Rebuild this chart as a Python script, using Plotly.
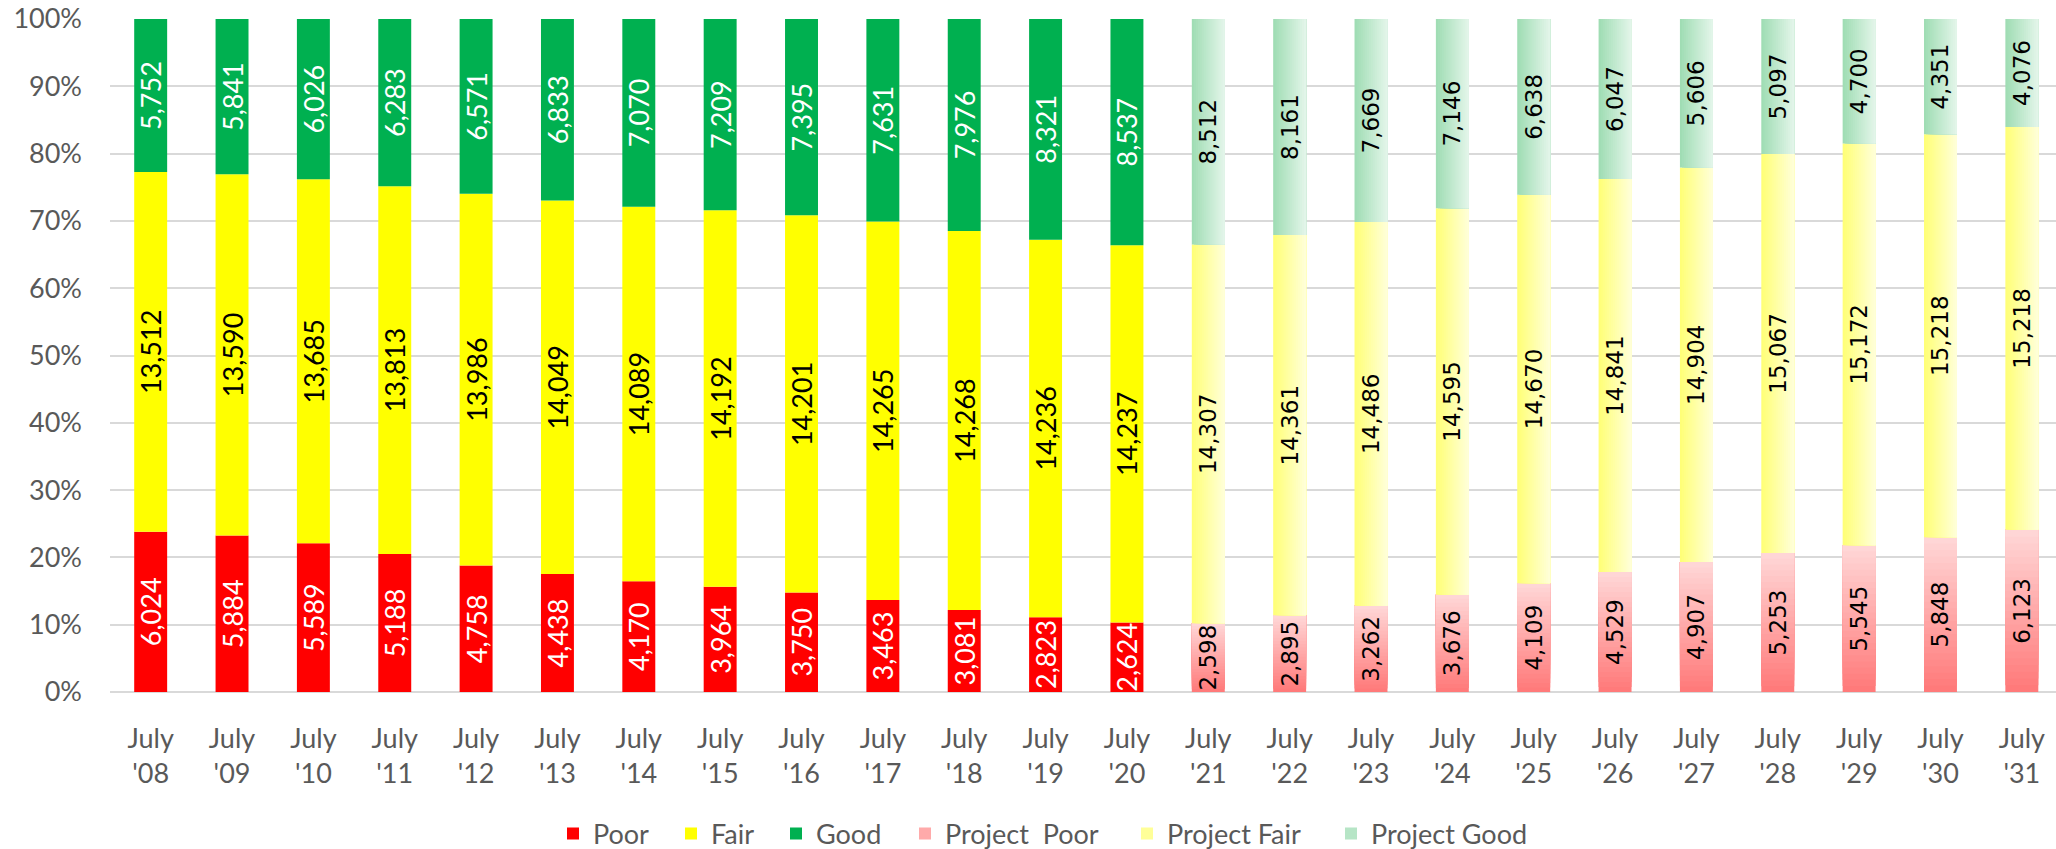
import numpy as np
import plotly.graph_objects as go

# ---------------- data ----------------
years = ["'08", "'09", "'10", "'11", "'12", "'13", "'14", "'15", "'16", "'17", "'18", "'19",
         "'20", "'21", "'22", "'23", "'24", "'25", "'26", "'27", "'28", "'29", "'30", "'31"]
categories = ["July<br>" + y for y in years]

poor = [6024, 5884, 5589, 5188, 4758, 4438, 4170, 3964, 3750, 3463, 3081, 2823, 2624]
fair = [13512, 13590, 13685, 13813, 13986, 14049, 14089, 14192, 14201, 14265, 14268, 14236, 14237]
good = [5752, 5841, 6026, 6283, 6571, 6833, 7070, 7209, 7395, 7631, 7976, 8321, 8537]

project_poor = [2598, 2895, 3262, 3676, 4109, 4529, 4907, 5253, 5545, 5848, 6123]
project_fair = [14307, 14361, 14486, 14595, 14670, 14841, 14904, 15067, 15172, 15218, 15218]
project_good = [8512, 8161, 7669, 7146, 6638, 6047, 5606, 5097, 4700, 4351, 4076]

legend_names = ["Poor", "Fair", "Good", "Project\u00a0 Poor", "Project Fair", "Project Good"]

# ---------------- derived ----------------
n_act = len(poor)
cat_act = categories[:n_act]
cat_proj = categories[n_act:]


def pct(a, b, c):
    a, b, c = np.array(a, float), np.array(b, float), np.array(c, float)
    t = a + b + c
    return a / t * 100, b / t * 100, c / t * 100


pa, fa, ga = pct(poor, fair, good)
pp, fp, gp = pct(project_poor, project_fair, project_good)

W = 0.405
GRAY = "#595959"
LABEL_FONT = "Lato"
PROJ_FONT = "DejaVu Sans"
legend_ids = ["legend", "legend2", "legend3", "legend4", "legend5", "legend6"]


def fmt(v):
    return [f"{x:,}" for x in v]


def mix(c1, c2, t):
    r = [round(c1[i] + (c2[i] - c1[i]) * t) for i in range(3)]
    return f"rgb({r[0]},{r[1]},{r[2]})"


fig = go.Figure()

# actual series
for idx, (vals, p, base, col, tcol) in enumerate([
    (poor, pa, np.zeros(n_act), "#FF0000", "white"),
    (fair, fa, pa, "#FFFF00", "black"),
    (good, ga, pa + fa, "#00B050", "white"),
]):
    fig.add_trace(go.Bar(
        x=cat_act, y=p, base=base, width=W, name=legend_names[idx], legend=legend_ids[idx],
        marker=dict(color=col, line=dict(width=0)),
        text=fmt(vals), textposition="inside", insidetextanchor="middle",
        textangle=-90, constraintext="none",
        textfont=dict(family=LABEL_FONT, size=27, color=tcol),
        hoverinfo="skip",
    ))

# projected poor: vertical gradient (bottom dark -> top light)
K = 24
bot, top = (255, 122, 122), (255, 214, 214)
for k in range(K):
    t = k / (K - 1)
    fig.add_trace(go.Bar(
        x=cat_proj, y=pp * (1 - k / K), base=pp * k / K, width=W,
        name=legend_names[3], legend=legend_ids[3], showlegend=(k == K // 2),
        marker=dict(color=mix(bot, top, t), line=dict(width=0)),
        hoverinfo="skip",
    ))

# projected fair/good: horizontal gradient (left strong -> right light)
N = 16
for idx, p, base, left, right in [
    (4, fp, pp, (255, 255, 120), (255, 255, 215)),
    (5, gp, pp + fp, (160, 221, 180), (226, 245, 233)),
]:
    for i in range(N):
        t = i / (N - 1)
        fig.add_trace(go.Bar(
            x=cat_proj, y=p, base=base, width=W * (1 - i / N), offset=-W / 2 + W * i / N,
            name=legend_names[idx], legend=legend_ids[idx], showlegend=(i == N // 3),
            marker=dict(color=mix(left, right, t), line=dict(width=0)),
            hoverinfo="skip",
        ))

# projected labels
for vals, p, base in [(project_poor, pp, np.zeros(len(pp))),
                      (project_fair, fp, pp),
                      (project_good, gp, pp + fp)]:
    fig.add_trace(go.Bar(
        x=cat_proj, y=p, base=base, width=W, showlegend=False,
        marker=dict(color="rgba(0,0,0,0)", line=dict(width=0)),
        text=fmt(vals), textposition="inside", insidetextanchor="middle",
        textangle=-90, constraintext="none",
        textfont=dict(family=PROJ_FONT, size=23, color="black"),
        hoverinfo="skip",
    ))

# body margin is removed by the post script, so figure coords = page coords
plot_left, plot_w, plot_h, plot_bottom = 110, 1946, 673, 692
swatch_left = [568, 686, 791, 920, 1142, 1346]
legend_y = -(834 - plot_bottom) / plot_h
leg_layout = {}
for lid, sx in zip(legend_ids, swatch_left):
    leg_layout[lid] = dict(
        orientation="h", x=(sx - 15 - plot_left) / plot_w, xanchor="left",
        y=legend_y, yanchor="middle", bgcolor="rgba(0,0,0,0)",
        font=dict(family=LABEL_FONT, size=27, color=GRAY),
    )

fig.update_layout(
    width=2056, height=849,
    margin=dict(l=plot_left, r=2056 - plot_left - plot_w, t=19,
                b=849 - plot_bottom, autoexpand=False),
    barmode="overlay",
    plot_bgcolor="white", paper_bgcolor="white",
    font=dict(family=LABEL_FONT, color=GRAY, size=27),
    xaxis=dict(type="category", categoryorder="array", categoryarray=categories,
               range=[-0.5, 23.42], showgrid=False, zeroline=False, showline=False,
               ticks="", tickfont=dict(family=LABEL_FONT, size=27, color=GRAY),
               ticklabelstandoff=28, automargin=False, ticklabeloverflow="allow"),
    yaxis=dict(range=[0, 100], dtick=10, ticksuffix="%", showgrid=True,
               gridcolor="#D9D9D9", gridwidth=2, zeroline=True, zerolinecolor="#D9D9D9",
               zerolinewidth=2, showline=False, ticks="",
               tickfont=dict(family=LABEL_FONT, size=27, color=GRAY),
               ticklabelstandoff=27, automargin=False, ticklabeloverflow="allow"),
    **leg_layout,
)

fig.write_html(
    "out.html",
    config={"displayModeBar": False},
    post_script="document.body.style.margin='0';document.body.style.overflow='hidden';",
)
